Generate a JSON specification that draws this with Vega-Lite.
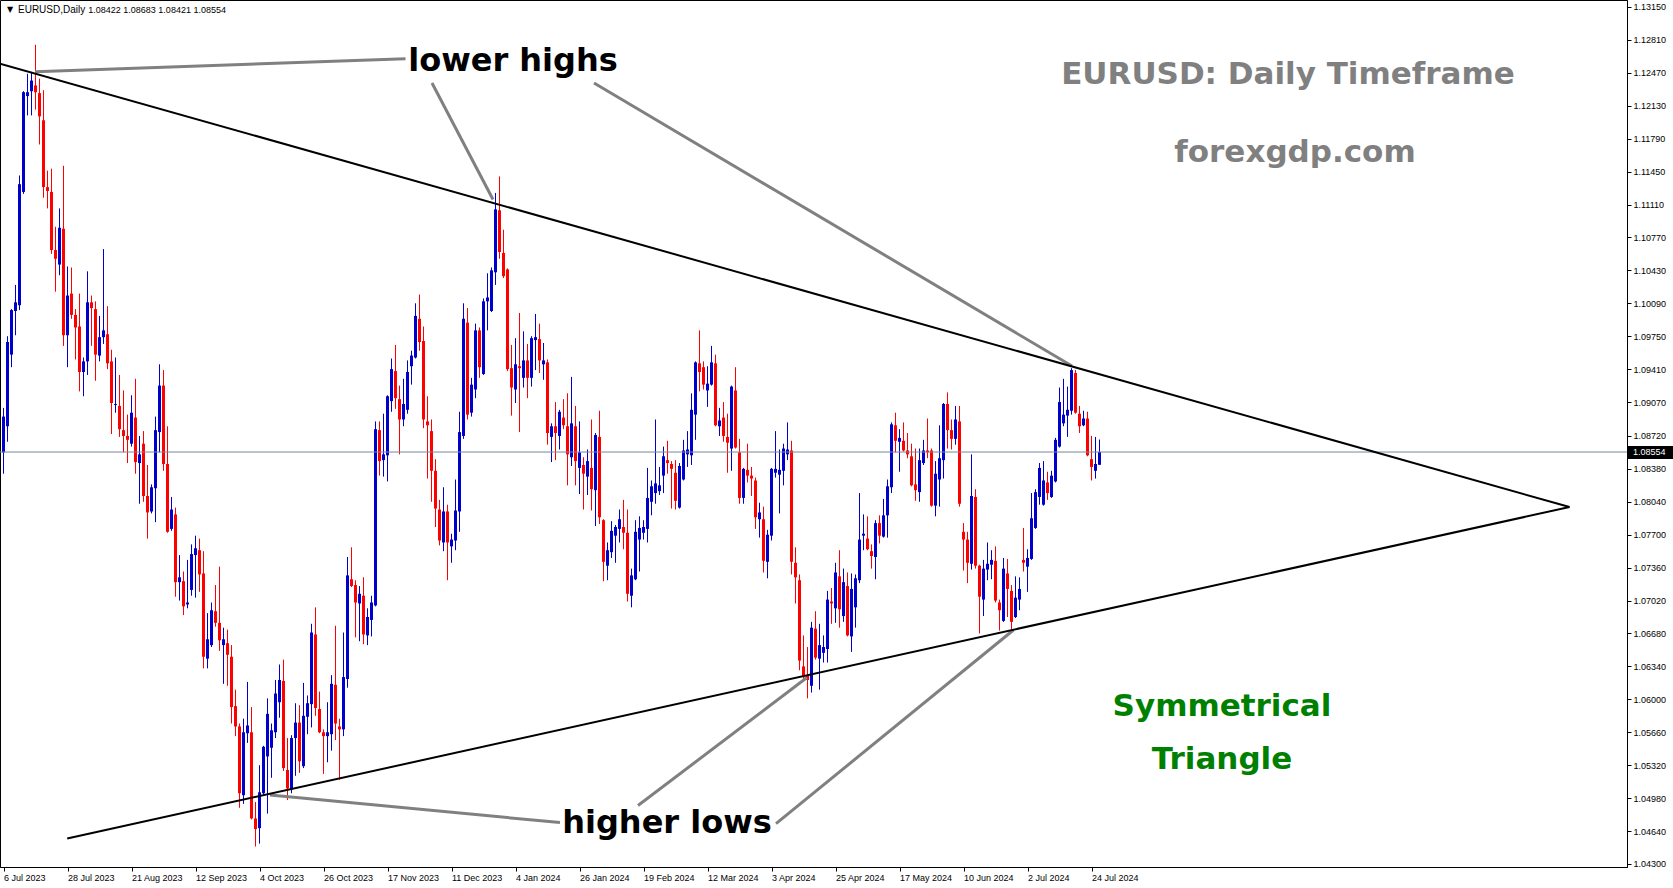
{
"$schema":"https://vega.github.io/schema/vega-lite/v6.json",
"width":1627,"height":867,
"autosize":{"type":"none"},
"padding":{"left":0,"top":0,"right":46,"bottom":21},
"background":"white",
"config":{"view":{"stroke":"black","strokeWidth":1},
 "axis":{"grid":false,"tickSize":4,"tickColor":"black","domainColor":"black","labelFont":"Liberation Sans","labelFontSize":9,"labelColor":"black","labelPadding":2,"labelOverlap":false,"labelFlush":false,"labelBound":false}},
"resolve":{"axis":{"x":"independent","y":"independent"},"scale":{"x":"shared","y":"shared"}},
"datasets":{
"candles":[
{"d":"2023-07-06","o":1.0855,"h":1.0901,"l":1.0833,"c":1.0892},
{"d":"2023-07-07","o":1.0882,"h":1.0975,"l":1.0866,"c":1.0969},
{"d":"2023-07-10","o":1.0956,"h":1.1003,"l":1.0943,"c":1.1002},
{"d":"2023-07-11","o":1.1001,"h":1.1028,"l":1.0976,"c":1.1010},
{"d":"2023-07-12","o":1.1007,"h":1.1141,"l":1.1002,"c":1.1132},
{"d":"2023-07-13","o":1.1124,"h":1.1228,"l":1.1122,"c":1.1227},
{"d":"2023-07-14","o":1.1223,"h":1.1246,"l":1.1203,"c":1.1227},
{"d":"2023-07-17","o":1.1228,"h":1.1248,"l":1.1203,"c":1.1239},
{"d":"2023-07-18","o":1.1234,"h":1.1276,"l":1.1209,"c":1.1227},
{"d":"2023-07-19","o":1.1226,"h":1.1241,"l":1.1173,"c":1.1202},
{"d":"2023-07-20","o":1.1198,"h":1.1229,"l":1.1118,"c":1.1129},
{"d":"2023-07-21","o":1.1129,"h":1.1146,"l":1.1107,"c":1.1125},
{"d":"2023-07-24","o":1.1124,"h":1.1148,"l":1.1060,"c":1.1064},
{"d":"2023-07-25","o":1.1064,"h":1.1088,"l":1.1021,"c":1.1055},
{"d":"2023-07-26","o":1.1049,"h":1.1107,"l":1.1038,"c":1.1087},
{"d":"2023-07-27","o":1.1086,"h":1.1151,"l":1.0965,"c":1.0976},
{"d":"2023-07-28","o":1.0976,"h":1.1047,"l":1.0943,"c":1.1017},
{"d":"2023-07-31","o":1.1019,"h":1.1046,"l":1.0993,"c":1.0997},
{"d":"2023-08-01","o":1.0997,"h":1.1003,"l":1.0951,"c":1.0984},
{"d":"2023-08-02","o":1.0985,"h":1.1019,"l":1.0918,"c":1.0938},
{"d":"2023-08-03","o":1.0938,"h":1.0953,"l":1.0913,"c":1.0949},
{"d":"2023-08-04","o":1.0949,"h":1.1042,"l":1.0935,"c":1.1010},
{"d":"2023-08-07","o":1.1010,"h":1.1017,"l":1.0965,"c":1.1004},
{"d":"2023-08-08","o":1.1003,"h":1.1011,"l":1.0929,"c":1.0956},
{"d":"2023-08-09","o":1.0955,"h":1.0996,"l":1.0949,"c":1.0974},
{"d":"2023-08-10","o":1.0974,"h":1.1065,"l":1.0967,"c":1.0981},
{"d":"2023-08-11","o":1.0977,"h":1.1006,"l":1.0941,"c":1.0947},
{"d":"2023-08-14","o":1.0949,"h":1.0961,"l":1.0874,"c":1.0906},
{"d":"2023-08-15","o":1.0904,"h":1.0953,"l":1.0896,"c":1.0905},
{"d":"2023-08-16","o":1.0903,"h":1.0935,"l":1.0871,"c":1.0879},
{"d":"2023-08-17","o":1.0878,"h":1.0919,"l":1.0855,"c":1.0872},
{"d":"2023-08-18","o":1.0872,"h":1.0894,"l":1.0844,"c":1.0868},
{"d":"2023-08-21","o":1.0864,"h":1.0914,"l":1.0861,"c":1.0896},
{"d":"2023-08-22","o":1.0891,"h":1.0931,"l":1.0833,"c":1.0845},
{"d":"2023-08-23","o":1.0844,"h":1.0872,"l":1.0802,"c":1.0853},
{"d":"2023-08-24","o":1.0864,"h":1.0877,"l":1.0804,"c":1.0810},
{"d":"2023-08-25","o":1.0810,"h":1.0842,"l":1.0766,"c":1.0793},
{"d":"2023-08-28","o":1.0794,"h":1.0822,"l":1.0792,"c":1.0819},
{"d":"2023-08-29","o":1.0818,"h":1.0892,"l":1.0783,"c":1.0878},
{"d":"2023-08-30","o":1.0876,"h":1.0946,"l":1.0855,"c":1.0924},
{"d":"2023-08-31","o":1.0924,"h":1.0940,"l":1.0836,"c":1.0843},
{"d":"2023-09-01","o":1.0843,"h":1.0882,"l":1.0772,"c":1.0773},
{"d":"2023-09-04","o":1.0776,"h":1.0809,"l":1.0774,"c":1.0796},
{"d":"2023-09-05","o":1.0791,"h":1.0798,"l":1.0706,"c":1.0721},
{"d":"2023-09-06","o":1.0721,"h":1.0749,"l":1.0702,"c":1.0726},
{"d":"2023-09-07","o":1.0722,"h":1.0732,"l":1.0687,"c":1.0696},
{"d":"2023-09-08","o":1.0698,"h":1.0744,"l":1.0694,"c":1.0700},
{"d":"2023-09-11","o":1.0713,"h":1.0760,"l":1.0707,"c":1.0750},
{"d":"2023-09-12","o":1.0749,"h":1.0769,"l":1.0705,"c":1.0756},
{"d":"2023-09-13","o":1.0754,"h":1.0766,"l":1.0711,"c":1.0729},
{"d":"2023-09-14","o":1.0730,"h":1.0753,"l":1.0632,"c":1.0644},
{"d":"2023-09-15","o":1.0642,"h":1.0689,"l":1.0632,"c":1.0662},
{"d":"2023-09-18","o":1.0656,"h":1.0700,"l":1.0654,"c":1.0692},
{"d":"2023-09-19","o":1.0691,"h":1.0718,"l":1.0675,"c":1.0679},
{"d":"2023-09-20","o":1.0679,"h":1.0737,"l":1.0650,"c":1.0661},
{"d":"2023-09-21","o":1.0656,"h":1.0674,"l":1.0616,"c":1.0662},
{"d":"2023-09-22","o":1.0658,"h":1.0672,"l":1.0614,"c":1.0646},
{"d":"2023-09-25","o":1.0644,"h":1.0656,"l":1.0575,"c":1.0592},
{"d":"2023-09-26","o":1.0593,"h":1.0610,"l":1.0562,"c":1.0572},
{"d":"2023-09-27","o":1.0572,"h":1.0575,"l":1.0488,"c":1.0503},
{"d":"2023-09-28","o":1.0501,"h":1.0580,"l":1.0492,"c":1.0566},
{"d":"2023-09-29","o":1.0565,"h":1.0618,"l":1.0555,"c":1.0573},
{"d":"2023-10-02","o":1.0566,"h":1.0592,"l":1.0476,"c":1.0477},
{"d":"2023-10-03","o":1.0477,"h":1.0494,"l":1.0448,"c":1.0466},
{"d":"2023-10-04","o":1.0467,"h":1.0532,"l":1.0451,"c":1.0504},
{"d":"2023-10-05","o":1.0503,"h":1.0552,"l":1.0502,"c":1.0551},
{"d":"2023-10-06","o":1.0541,"h":1.0601,"l":1.0482,"c":1.0585},
{"d":"2023-10-09","o":1.0550,"h":1.0575,"l":1.0519,"c":1.0568},
{"d":"2023-10-10","o":1.0566,"h":1.0620,"l":1.0560,"c":1.0606},
{"d":"2023-10-11","o":1.0597,"h":1.0636,"l":1.0581,"c":1.0620},
{"d":"2023-10-12","o":1.0619,"h":1.0641,"l":1.0526,"c":1.0529},
{"d":"2023-10-13","o":1.0527,"h":1.0560,"l":1.0496,"c":1.0508},
{"d":"2023-10-16","o":1.0507,"h":1.0563,"l":1.0503,"c":1.0560},
{"d":"2023-10-17","o":1.0560,"h":1.0596,"l":1.0521,"c":1.0576},
{"d":"2023-10-18","o":1.0576,"h":1.0594,"l":1.0524,"c":1.0536},
{"d":"2023-10-19","o":1.0531,"h":1.0617,"l":1.0529,"c":1.0583},
{"d":"2023-10-20","o":1.0582,"h":1.0604,"l":1.0564,"c":1.0596},
{"d":"2023-10-23","o":1.0595,"h":1.0678,"l":1.0571,"c":1.0669},
{"d":"2023-10-24","o":1.0667,"h":1.0695,"l":1.0583,"c":1.0591},
{"d":"2023-10-25","o":1.0590,"h":1.0608,"l":1.0565,"c":1.0566},
{"d":"2023-10-26","o":1.0566,"h":1.0569,"l":1.0523,"c":1.0562},
{"d":"2023-10-27","o":1.0562,"h":1.0597,"l":1.0535,"c":1.0566},
{"d":"2023-10-30","o":1.0564,"h":1.0625,"l":1.0547,"c":1.0616},
{"d":"2023-10-31","o":1.0615,"h":1.0676,"l":1.0558,"c":1.0575},
{"d":"2023-11-01","o":1.0572,"h":1.0580,"l":1.0517,"c":1.0569},
{"d":"2023-11-02","o":1.0569,"h":1.0669,"l":1.0562,"c":1.0623},
{"d":"2023-11-03","o":1.0621,"h":1.0747,"l":1.0612,"c":1.0728},
{"d":"2023-11-06","o":1.0724,"h":1.0757,"l":1.0716,"c":1.0717},
{"d":"2023-11-07","o":1.0718,"h":1.0723,"l":1.0664,"c":1.0700},
{"d":"2023-11-08","o":1.0699,"h":1.0717,"l":1.0660,"c":1.0709},
{"d":"2023-11-09","o":1.0707,"h":1.0726,"l":1.0657,"c":1.0667},
{"d":"2023-11-10","o":1.0666,"h":1.0694,"l":1.0656,"c":1.0685},
{"d":"2023-11-13","o":1.0682,"h":1.0707,"l":1.0665,"c":1.0700},
{"d":"2023-11-14","o":1.0697,"h":1.0887,"l":1.0696,"c":1.0879},
{"d":"2023-11-15","o":1.0878,"h":1.0887,"l":1.0831,"c":1.0846},
{"d":"2023-11-16","o":1.0847,"h":1.0895,"l":1.0830,"c":1.0853},
{"d":"2023-11-17","o":1.0852,"h":1.0914,"l":1.0825,"c":1.0913},
{"d":"2023-11-20","o":1.0908,"h":1.0952,"l":1.0897,"c":1.0941},
{"d":"2023-11-21","o":1.0939,"h":1.0966,"l":1.0900,"c":1.0911},
{"d":"2023-11-22","o":1.0910,"h":1.0924,"l":1.0853,"c":1.0889},
{"d":"2023-11-23","o":1.0889,"h":1.0931,"l":1.0882,"c":1.0905},
{"d":"2023-11-24","o":1.0899,"h":1.0950,"l":1.0895,"c":1.0938},
{"d":"2023-11-27","o":1.0944,"h":1.0960,"l":1.0925,"c":1.0955},
{"d":"2023-11-28","o":1.0953,"h":1.1009,"l":1.0952,"c":1.0996},
{"d":"2023-11-29","o":1.0993,"h":1.1018,"l":1.0960,"c":1.0969},
{"d":"2023-11-30","o":1.0970,"h":1.0985,"l":1.0880,"c":1.0889},
{"d":"2023-12-01","o":1.0887,"h":1.0913,"l":1.0828,"c":1.0883},
{"d":"2023-12-04","o":1.0877,"h":1.0889,"l":1.0804,"c":1.0836},
{"d":"2023-12-05","o":1.0836,"h":1.0848,"l":1.0778,"c":1.0797},
{"d":"2023-12-06","o":1.0796,"h":1.0806,"l":1.0759,"c":1.0764},
{"d":"2023-12-07","o":1.0762,"h":1.0819,"l":1.0753,"c":1.0794},
{"d":"2023-12-08","o":1.0794,"h":1.0801,"l":1.0723,"c":1.0762},
{"d":"2023-12-11","o":1.0758,"h":1.0771,"l":1.0741,"c":1.0765},
{"d":"2023-12-12","o":1.0764,"h":1.0827,"l":1.0754,"c":1.0795},
{"d":"2023-12-13","o":1.0794,"h":1.0897,"l":1.0773,"c":1.0876},
{"d":"2023-12-14","o":1.0872,"h":1.1009,"l":1.0869,"c":1.0993},
{"d":"2023-12-15","o":1.0989,"h":1.1004,"l":1.0889,"c":1.0894},
{"d":"2023-12-18","o":1.0896,"h":1.0932,"l":1.0892,"c":1.0925},
{"d":"2023-12-19","o":1.0920,"h":1.0988,"l":1.0911,"c":1.0981},
{"d":"2023-12-20","o":1.0981,"h":1.0984,"l":1.0932,"c":1.0943},
{"d":"2023-12-21","o":1.0936,"h":1.1014,"l":1.0935,"c":1.1011},
{"d":"2023-12-22","o":1.1011,"h":1.1040,"l":1.0981,"c":1.1015},
{"d":"2023-12-26","o":1.1001,"h":1.1046,"l":1.1000,"c":1.1043},
{"d":"2023-12-27","o":1.1041,"h":1.1123,"l":1.1028,"c":1.1106},
{"d":"2023-12-28","o":1.1105,"h":1.1140,"l":1.1055,"c":1.1062},
{"d":"2023-12-29","o":1.1061,"h":1.1085,"l":1.1035,"c":1.1037},
{"d":"2024-01-02","o":1.1044,"h":1.1045,"l":1.0939,"c":1.0941},
{"d":"2024-01-03","o":1.0942,"h":1.0966,"l":1.0893,"c":1.0922},
{"d":"2024-01-04","o":1.0920,"h":1.0973,"l":1.0906,"c":1.0946},
{"d":"2024-01-05","o":1.0944,"h":1.0999,"l":1.0876,"c":1.0942},
{"d":"2024-01-08","o":1.0932,"h":1.0980,"l":1.0922,"c":1.0950},
{"d":"2024-01-09","o":1.0950,"h":1.0967,"l":1.0911,"c":1.0932},
{"d":"2024-01-10","o":1.0932,"h":1.0975,"l":1.0923,"c":1.0973},
{"d":"2024-01-11","o":1.0971,"h":1.0998,"l":1.0940,"c":1.0974},
{"d":"2024-01-12","o":1.0972,"h":1.0988,"l":1.0937,"c":1.0950},
{"d":"2024-01-15","o":1.0946,"h":1.0968,"l":1.0930,"c":1.0950},
{"d":"2024-01-16","o":1.0948,"h":1.0951,"l":1.0863,"c":1.0875},
{"d":"2024-01-17","o":1.0871,"h":1.0885,"l":1.0845,"c":1.0882},
{"d":"2024-01-18","o":1.0882,"h":1.0907,"l":1.0847,"c":1.0875},
{"d":"2024-01-19","o":1.0872,"h":1.0899,"l":1.0858,"c":1.0897},
{"d":"2024-01-22","o":1.0891,"h":1.0910,"l":1.0879,"c":1.0883},
{"d":"2024-01-23","o":1.0882,"h":1.0916,"l":1.0821,"c":1.0853},
{"d":"2024-01-24","o":1.0850,"h":1.0933,"l":1.0841,"c":1.0885},
{"d":"2024-01-25","o":1.0882,"h":1.0903,"l":1.0821,"c":1.0846},
{"d":"2024-01-26","o":1.0839,"h":1.0887,"l":1.0812,"c":1.0855},
{"d":"2024-01-29","o":1.0842,"h":1.0850,"l":1.0796,"c":1.0833},
{"d":"2024-01-30","o":1.0830,"h":1.0858,"l":1.0811,"c":1.0846},
{"d":"2024-01-31","o":1.0839,"h":1.0889,"l":1.0795,"c":1.0817},
{"d":"2024-02-01","o":1.0816,"h":1.0875,"l":1.0779,"c":1.0873},
{"d":"2024-02-02","o":1.0871,"h":1.0898,"l":1.0781,"c":1.0788},
{"d":"2024-02-05","o":1.0785,"h":1.0786,"l":1.0722,"c":1.0742},
{"d":"2024-02-06","o":1.0738,"h":1.0762,"l":1.0723,"c":1.0754},
{"d":"2024-02-07","o":1.0752,"h":1.0784,"l":1.0746,"c":1.0774},
{"d":"2024-02-08","o":1.0769,"h":1.0780,"l":1.0741,"c":1.0778},
{"d":"2024-02-09","o":1.0776,"h":1.0796,"l":1.0762,"c":1.0786},
{"d":"2024-02-12","o":1.0778,"h":1.0806,"l":1.0755,"c":1.0772},
{"d":"2024-02-13","o":1.0772,"h":1.0796,"l":1.0701,"c":1.0709},
{"d":"2024-02-14","o":1.0707,"h":1.0735,"l":1.0695,"c":1.0728},
{"d":"2024-02-15","o":1.0724,"h":1.0785,"l":1.0723,"c":1.0773},
{"d":"2024-02-16","o":1.0765,"h":1.0789,"l":1.0732,"c":1.0777},
{"d":"2024-02-19","o":1.0772,"h":1.0785,"l":1.0765,"c":1.0778},
{"d":"2024-02-20","o":1.0776,"h":1.0839,"l":1.0762,"c":1.0808},
{"d":"2024-02-21","o":1.0804,"h":1.0826,"l":1.0790,"c":1.0820},
{"d":"2024-02-22","o":1.0813,"h":1.0889,"l":1.0802,"c":1.0823},
{"d":"2024-02-23","o":1.0815,"h":1.0840,"l":1.0811,"c":1.0821},
{"d":"2024-02-26","o":1.0831,"h":1.0861,"l":1.0813,"c":1.0851},
{"d":"2024-02-27","o":1.0847,"h":1.0867,"l":1.0833,"c":1.0844},
{"d":"2024-02-28","o":1.0843,"h":1.0846,"l":1.0797,"c":1.0838},
{"d":"2024-02-29","o":1.0834,"h":1.0847,"l":1.0796,"c":1.0805},
{"d":"2024-03-01","o":1.0798,"h":1.0844,"l":1.0797,"c":1.0841},
{"d":"2024-03-04","o":1.0827,"h":1.0868,"l":1.0826,"c":1.0857},
{"d":"2024-03-05","o":1.0853,"h":1.0877,"l":1.0840,"c":1.0858},
{"d":"2024-03-06","o":1.0852,"h":1.0916,"l":1.0842,"c":1.0899},
{"d":"2024-03-07","o":1.0894,"h":1.0949,"l":1.0868,"c":1.0948},
{"d":"2024-03-08","o":1.0947,"h":1.0981,"l":1.0918,"c":1.0938},
{"d":"2024-03-11","o":1.0943,"h":1.0949,"l":1.0920,"c":1.0925},
{"d":"2024-03-12","o":1.0919,"h":1.0944,"l":1.0902,"c":1.0926},
{"d":"2024-03-13","o":1.0925,"h":1.0965,"l":1.0924,"c":1.0948},
{"d":"2024-03-14","o":1.0947,"h":1.0956,"l":1.0882,"c":1.0883},
{"d":"2024-03-15","o":1.0882,"h":1.0901,"l":1.0872,"c":1.0888},
{"d":"2024-03-18","o":1.0891,"h":1.0907,"l":1.0866,"c":1.0872},
{"d":"2024-03-19","o":1.0871,"h":1.0895,"l":1.0834,"c":1.0865},
{"d":"2024-03-20","o":1.0859,"h":1.0924,"l":1.0836,"c":1.0923},
{"d":"2024-03-21","o":1.0919,"h":1.0943,"l":1.0859,"c":1.0860},
{"d":"2024-03-22","o":1.0855,"h":1.0869,"l":1.0802,"c":1.0808},
{"d":"2024-03-25","o":1.0808,"h":1.0839,"l":1.0802,"c":1.0838},
{"d":"2024-03-26","o":1.0837,"h":1.0864,"l":1.0824,"c":1.0831},
{"d":"2024-03-27","o":1.0831,"h":1.0840,"l":1.0810,"c":1.0828},
{"d":"2024-03-28","o":1.0826,"h":1.0829,"l":1.0776,"c":1.0788},
{"d":"2024-03-29","o":1.0786,"h":1.0803,"l":1.0767,"c":1.0793},
{"d":"2024-04-01","o":1.0786,"h":1.0799,"l":1.0731,"c":1.0743},
{"d":"2024-04-02","o":1.0742,"h":1.0775,"l":1.0725,"c":1.0770},
{"d":"2024-04-03","o":1.0769,"h":1.0839,"l":1.0764,"c":1.0838},
{"d":"2024-04-04","o":1.0834,"h":1.0877,"l":1.0829,"c":1.0838},
{"d":"2024-04-05","o":1.0832,"h":1.0858,"l":1.0792,"c":1.0837},
{"d":"2024-04-08","o":1.0836,"h":1.0864,"l":1.0821,"c":1.0859},
{"d":"2024-04-09","o":1.0853,"h":1.0886,"l":1.0847,"c":1.0858},
{"d":"2024-04-10","o":1.0857,"h":1.0867,"l":1.0729,"c":1.0742},
{"d":"2024-04-11","o":1.0741,"h":1.0757,"l":1.0699,"c":1.0726},
{"d":"2024-04-12","o":1.0723,"h":1.0729,"l":1.0630,"c":1.0640},
{"d":"2024-04-15","o":1.0634,"h":1.0666,"l":1.0618,"c":1.0624},
{"d":"2024-04-16","o":1.0625,"h":1.0654,"l":1.0601,"c":1.0620},
{"d":"2024-04-17","o":1.0614,"h":1.0680,"l":1.0607,"c":1.0674},
{"d":"2024-04-18","o":1.0673,"h":1.0691,"l":1.0641,"c":1.0643},
{"d":"2024-04-19","o":1.0642,"h":1.0678,"l":1.0610,"c":1.0656},
{"d":"2024-04-22","o":1.0648,"h":1.0666,"l":1.0638,"c":1.0654},
{"d":"2024-04-23","o":1.0652,"h":1.0712,"l":1.0638,"c":1.0703},
{"d":"2024-04-24","o":1.0701,"h":1.0715,"l":1.0678,"c":1.0699},
{"d":"2024-04-25","o":1.0694,"h":1.0741,"l":1.0679,"c":1.0731},
{"d":"2024-04-26","o":1.0727,"h":1.0754,"l":1.0674,"c":1.0693},
{"d":"2024-04-29","o":1.0686,"h":1.0735,"l":1.0680,"c":1.0721},
{"d":"2024-04-30","o":1.0717,"h":1.0731,"l":1.0665,"c":1.0666},
{"d":"2024-05-01","o":1.0665,"h":1.0730,"l":1.0649,"c":1.0714},
{"d":"2024-05-02","o":1.0695,"h":1.0729,"l":1.0674,"c":1.0725},
{"d":"2024-05-03","o":1.0723,"h":1.0813,"l":1.0720,"c":1.0765},
{"d":"2024-05-06","o":1.0769,"h":1.0791,"l":1.0754,"c":1.0771},
{"d":"2024-05-07","o":1.0766,"h":1.0789,"l":1.0754,"c":1.0755},
{"d":"2024-05-08","o":1.0753,"h":1.0760,"l":1.0735,"c":1.0748},
{"d":"2024-05-09","o":1.0747,"h":1.0785,"l":1.0724,"c":1.0782},
{"d":"2024-05-10","o":1.0782,"h":1.0790,"l":1.0761,"c":1.0769},
{"d":"2024-05-13","o":1.0768,"h":1.0807,"l":1.0767,"c":1.0790},
{"d":"2024-05-14","o":1.0790,"h":1.0827,"l":1.0767,"c":1.0820},
{"d":"2024-05-15","o":1.0819,"h":1.0886,"l":1.0813,"c":1.0884},
{"d":"2024-05-16","o":1.0883,"h":1.0896,"l":1.0855,"c":1.0867},
{"d":"2024-05-17","o":1.0866,"h":1.0879,"l":1.0835,"c":1.0870},
{"d":"2024-05-20","o":1.0867,"h":1.0886,"l":1.0856,"c":1.0857},
{"d":"2024-05-21","o":1.0857,"h":1.0875,"l":1.0849,"c":1.0853},
{"d":"2024-05-22","o":1.0851,"h":1.0864,"l":1.0820,"c":1.0821},
{"d":"2024-05-23","o":1.0822,"h":1.0859,"l":1.0805,"c":1.0816},
{"d":"2024-05-24","o":1.0814,"h":1.0859,"l":1.0804,"c":1.0847},
{"d":"2024-05-27","o":1.0844,"h":1.0868,"l":1.0842,"c":1.0857},
{"d":"2024-05-28","o":1.0857,"h":1.0890,"l":1.0849,"c":1.0855},
{"d":"2024-05-29","o":1.0857,"h":1.0859,"l":1.0799,"c":1.0800},
{"d":"2024-05-30","o":1.0800,"h":1.0846,"l":1.0789,"c":1.0833},
{"d":"2024-05-31","o":1.0827,"h":1.0883,"l":1.0799,"c":1.0849},
{"d":"2024-06-03","o":1.0847,"h":1.0906,"l":1.0828,"c":1.0905},
{"d":"2024-06-04","o":1.0905,"h":1.0917,"l":1.0859,"c":1.0878},
{"d":"2024-06-05","o":1.0878,"h":1.0889,"l":1.0858,"c":1.0869},
{"d":"2024-06-06","o":1.0869,"h":1.0903,"l":1.0863,"c":1.0889},
{"d":"2024-06-07","o":1.0887,"h":1.0903,"l":1.0799,"c":1.0802},
{"d":"2024-06-10","o":1.0773,"h":1.0782,"l":1.0733,"c":1.0765},
{"d":"2024-06-11","o":1.0765,"h":1.0773,"l":1.0720,"c":1.0741},
{"d":"2024-06-12","o":1.0740,"h":1.0853,"l":1.0734,"c":1.0810},
{"d":"2024-06-13","o":1.0809,"h":1.0817,"l":1.0735,"c":1.0738},
{"d":"2024-06-14","o":1.0738,"h":1.0739,"l":1.0668,"c":1.0706},
{"d":"2024-06-17","o":1.0703,"h":1.0744,"l":1.0686,"c":1.0735},
{"d":"2024-06-18","o":1.0734,"h":1.0762,"l":1.0723,"c":1.0740},
{"d":"2024-06-19","o":1.0739,"h":1.0754,"l":1.0724,"c":1.0744},
{"d":"2024-06-20","o":1.0743,"h":1.0758,"l":1.0700,"c":1.0702},
{"d":"2024-06-21","o":1.0700,"h":1.0703,"l":1.0671,"c":1.0692},
{"d":"2024-06-24","o":1.0681,"h":1.0746,"l":1.0680,"c":1.0735},
{"d":"2024-06-25","o":1.0730,"h":1.0745,"l":1.0685,"c":1.0714},
{"d":"2024-06-26","o":1.0712,"h":1.0718,"l":1.0672,"c":1.0680},
{"d":"2024-06-27","o":1.0685,"h":1.0727,"l":1.0684,"c":1.0705},
{"d":"2024-06-28","o":1.0703,"h":1.0726,"l":1.0692,"c":1.0714},
{"d":"2024-07-01","o":1.0744,"h":1.0777,"l":1.0732,"c":1.0741},
{"d":"2024-07-02","o":1.0737,"h":1.0755,"l":1.0711,"c":1.0746},
{"d":"2024-07-03","o":1.0745,"h":1.0813,"l":1.0744,"c":1.0787},
{"d":"2024-07-04","o":1.0777,"h":1.0817,"l":1.0776,"c":1.0814},
{"d":"2024-07-05","o":1.0809,"h":1.0844,"l":1.0801,"c":1.0839},
{"d":"2024-07-08","o":1.0801,"h":1.0846,"l":1.0800,"c":1.0826},
{"d":"2024-07-09","o":1.0824,"h":1.0835,"l":1.0806,"c":1.0813},
{"d":"2024-07-10","o":1.0809,"h":1.0836,"l":1.0808,"c":1.0831},
{"d":"2024-07-11","o":1.0825,"h":1.0870,"l":1.0824,"c":1.0868},
{"d":"2024-07-12","o":1.0861,"h":1.0922,"l":1.0860,"c":1.0907},
{"d":"2024-07-15","o":1.0885,"h":1.0931,"l":1.0882,"c":1.0894},
{"d":"2024-07-16","o":1.0893,"h":1.0923,"l":1.0871,"c":1.0899},
{"d":"2024-07-17","o":1.0898,"h":1.0942,"l":1.0894,"c":1.0940},
{"d":"2024-07-18","o":1.0937,"h":1.0940,"l":1.0895,"c":1.0896},
{"d":"2024-07-19","o":1.0895,"h":1.0903,"l":1.0875,"c":1.0882},
{"d":"2024-07-22","o":1.0883,"h":1.0898,"l":1.0882,"c":1.0890},
{"d":"2024-07-23","o":1.0890,"h":1.0897,"l":1.0851,"c":1.0852},
{"d":"2024-07-24","o":1.0848,"h":1.0872,"l":1.0826,"c":1.0840},
{"d":"2024-07-25","o":1.0836,"h":1.0871,"l":1.0828,"c":1.0843},
{"d":"2024-07-26","o":1.08422,"h":1.08683,"l":1.08421,"c":1.08554}
],
"trend":[
{"x1":0.125,"p1":1.12565,"x2":392.5,"p2":1.07986},
{"x1":16.925,"p1":1.04563,"x2":392.5,"p2":1.07986}
],
"pointers":[
{"x1":8.875,"p1":1.12482,"x2":101.5,"p2":1.12616},
{"x1":108.125,"p1":1.12365,"x2":123.375,"p2":1.11162},
{"x1":148.625,"p1":1.12365,"x2":268.125,"p2":1.09442},
{"x1":140.125,"p1":1.04727,"x2":67.625,"p2":1.05012},
{"x1":159.625,"p1":1.04903,"x2":201.875,"p2":1.06226},
{"x1":194.125,"p1":1.04716,"x2":253.5,"p2":1.06716}
],
"last":[{"p":1.08554,"bx1":406.875,"bx2":418.4,"tx":408.375,"bp1":1.08616,"bp2":1.08482}],
"notes":[
{"t":"lower highs","x":128.375,"p":1.12592,"g":"black"},
{"t":"higher lows","x":166.875,"p":1.04723,"g":"black"},
{"t":"EURUSD: Daily Timeframe","x":322.125,"p":1.12447,"g":"gray"},
{"t":"forexgdp.com","x":323.875,"p":1.11642,"g":"gray"},
{"t":"Symmetrical","x":305.625,"p":1.05921,"g":"green"},
{"t":"Triangle","x":305.625,"p":1.05373,"g":"green"}
],
"header":[
{"t":"▼","x":2.625,"p":1.13119,"g":"arrow"},
{"t":"EURUSD,Daily","x":4.625,"p":1.13119,"g":"name"},
{"t":"1.08422 1.08683 1.08421 1.08554","x":22.2,"p":1.13119,"g":"ohlc"}
]
},
"layer":[
{"data":{"name":"candles"},
 "transform":[{"window":[{"op":"row_number","as":"i"}]}],
 "mark":{"type":"rule","strokeWidth":1},
 "encoding":{
  "x":{"field":"i","type":"quantitative","scale":{"domain":[0.125,406.875],"nice":false,"zero":false,"padding":0},
   "axis":{"orient":"bottom","title":null,"grid":false,"labelOverlap":false,"labelFlush":false,"values":[1,17,33,49,65,81,97,113,129,145,161,177,193,209,225,241,257,273],
    "labelExpr":"['6 Jul 2023','28 Jul 2023','21 Aug 2023','12 Sep 2023','4 Oct 2023','26 Oct 2023','17 Nov 2023','11 Dec 2023','4 Jan 2024','26 Jan 2024','19 Feb 2024','12 Mar 2024','3 Apr 2024','25 Apr 2024','17 May 2024','10 Jun 2024','2 Jul 2024','24 Jul 2024'][round((datum.value-1)/16)]",
    "labelAlign":"left","labelBaseline":"top"}},
  "y":{"field":"l","type":"quantitative","scale":{"domain":[1.042685,1.13222],"nice":false,"zero":false,"padding":0},
   "axis":{"orient":"right","title":null,"grid":false,"labelOverlap":false,"labelFlush":false,"labelBound":false,"values":[1.1315,1.1281,1.1247,1.1213,1.1179,1.1145,1.1111,1.1077,1.1043,1.1009,1.0975,1.0941,1.0907,1.0872,1.0838,1.0804,1.077,1.0736,1.0702,1.0668,1.0634,1.06,1.0566,1.0532,1.0498,1.0464,1.043],
    "format":".5f","labelAlign":"left","labelBaseline":"middle"}},
  "y2":{"field":"h"},
  "color":{"condition":{"test":"datum.c > datum.o","value":"#0000cd"},"value":"#ff0000"}}},
{"data":{"name":"candles"},
 "transform":[{"window":[{"op":"row_number","as":"i"}]}],
 "mark":{"type":"bar","size":3,"orient":"vertical"},
 "encoding":{
  "x":{"field":"i","type":"quantitative","axis":null},
  "y":{"field":"o","type":"quantitative","axis":null},
  "y2":{"field":"c"},
  "color":{"condition":{"test":"datum.c > datum.o","value":"#0000cd"},"value":"#ff0000"}}},
{"data":{"name":"pointers"},
 "mark":{"type":"rule","color":"#808080","strokeWidth":3},
 "encoding":{
  "x":{"field":"x1","type":"quantitative","axis":null},"x2":{"field":"x2"},
  "y":{"field":"p1","type":"quantitative","axis":null},"y2":{"field":"p2"}}},
{"data":{"name":"last"},
 "mark":{"type":"rule","color":"#778899","strokeWidth":1},
 "encoding":{"y":{"field":"p","type":"quantitative","axis":null}}},
{"data":{"name":"trend"},
 "mark":{"type":"rule","color":"black","strokeWidth":2},
 "encoding":{
  "x":{"field":"x1","type":"quantitative","axis":null},"x2":{"field":"x2"},
  "y":{"field":"p1","type":"quantitative","axis":null},"y2":{"field":"p2"}}},
{"data":{"name":"last"},
 "mark":{"type":"rect","color":"black"},
 "encoding":{
  "x":{"field":"bx1","type":"quantitative","axis":null},"x2":{"field":"bx2"},
  "y":{"field":"bp1","type":"quantitative","axis":null},"y2":{"field":"bp2"}}},
{"data":{"name":"last"},
 "mark":{"type":"text","color":"white","font":"Liberation Sans","fontSize":9,"align":"left","baseline":"middle"},
 "encoding":{
  "x":{"field":"tx","type":"quantitative","axis":null},
  "y":{"field":"p","type":"quantitative","axis":null},
  "text":{"field":"p","format":".5f"}}},
{"data":{"name":"notes"},
 "transform":[{"filter":"datum.g == 'black'"}],
 "mark":{"type":"text","color":"black","font":"DejaVu Sans","fontWeight":"bold","fontSize":32,"align":"center","baseline":"middle"},
 "encoding":{"x":{"field":"x","type":"quantitative","axis":null},"y":{"field":"p","type":"quantitative","axis":null},"text":{"field":"t"}}},
{"data":{"name":"notes"},
 "transform":[{"filter":"datum.g == 'gray'"}],
 "mark":{"type":"text","color":"#808080","font":"DejaVu Sans","fontWeight":"bold","fontSize":31,"align":"center","baseline":"middle"},
 "encoding":{"x":{"field":"x","type":"quantitative","axis":null},"y":{"field":"p","type":"quantitative","axis":null},"text":{"field":"t"}}},
{"data":{"name":"notes"},
 "transform":[{"filter":"datum.g == 'green'"}],
 "mark":{"type":"text","color":"#008000","font":"DejaVu Sans","fontWeight":"bold","fontSize":31,"align":"center","baseline":"middle"},
 "encoding":{"x":{"field":"x","type":"quantitative","axis":null},"y":{"field":"p","type":"quantitative","axis":null},"text":{"field":"t"}}},
{"data":{"name":"header"},
 "transform":[{"filter":"datum.g == 'arrow'"}],
 "mark":{"type":"text","color":"black","font":"DejaVu Sans","fontSize":8,"align":"center","baseline":"middle"},
 "encoding":{"x":{"field":"x","type":"quantitative","axis":null},"y":{"field":"p","type":"quantitative","axis":null},"text":{"field":"t"}}},
{"data":{"name":"header"},
 "transform":[{"filter":"datum.g == 'name'"}],
 "mark":{"type":"text","color":"black","font":"Liberation Sans","fontSize":10,"align":"left","baseline":"middle"},
 "encoding":{"x":{"field":"x","type":"quantitative","axis":null},"y":{"field":"p","type":"quantitative","axis":null},"text":{"field":"t"}}},
{"data":{"name":"header"},
 "transform":[{"filter":"datum.g == 'ohlc'"}],
 "mark":{"type":"text","color":"black","font":"Liberation Sans","fontSize":9,"align":"left","baseline":"middle"},
 "encoding":{"x":{"field":"x","type":"quantitative","axis":null},"y":{"field":"p","type":"quantitative","axis":null},"text":{"field":"t"}}}
]
}
